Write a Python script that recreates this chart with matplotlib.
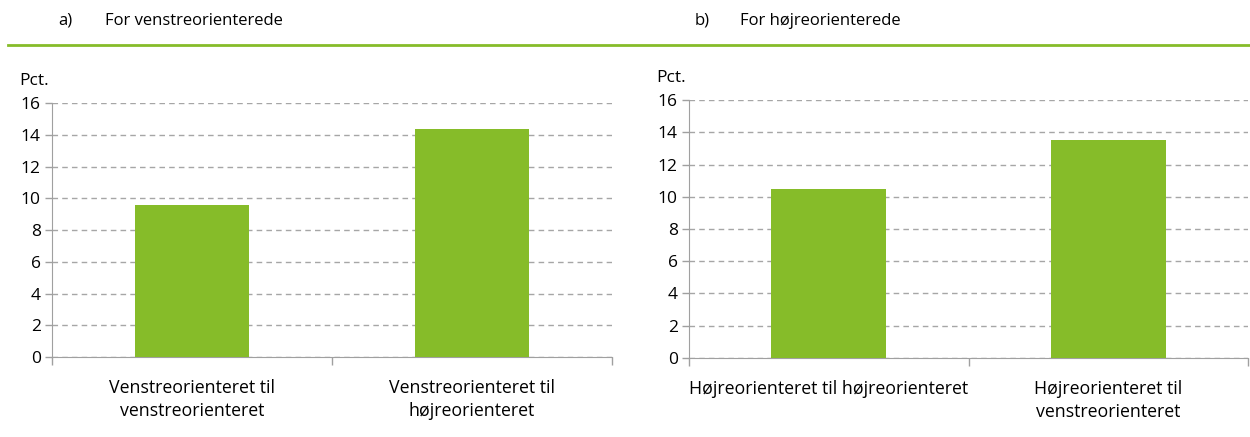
import matplotlib
matplotlib.use('Agg')

import matplotlib.pyplot as plt
from matplotlib.lines import Line2D

plt.rcParams['font.family'] = ['Open Sans', 'DejaVu Sans']

# Data
left_labels = ['Venstreorienteret til\nvenstreorienteret', 'Venstreorienteret til\nhøjreorienteret']
left_values = [9.6, 14.4]
right_labels = ['Højreorienteret til højreorienteret', 'Højreorienteret til\nvenstreorienteret']
right_values = [10.5, 13.5]
yticks = [0, 2, 4, 6, 8, 10, 12, 14, 16]

bar_color = '#86bc29'
grid_color = '#a6a6a6'
spine_color = '#a0a0a0'

fig = plt.figure(figsize=(12.5, 4.37), dpi=100)

panels = [
    ([0.0416, 0.183, 0.448, 0.581], 'a)', 0.0464, 0.084, 'For venstreorienterede', left_labels, left_values),
    ([0.5512, 0.181, 0.4472, 0.590], 'b)', 0.556, 0.592, 'For højreorienterede', right_labels, right_values),
]

for rect, letter, lx, tx, title, labels, values in panels:
    ax = fig.add_axes(rect)
    ax.bar(range(len(values)), values, width=0.41, color=bar_color, zorder=3)
    ax.set_xlim(-0.5, len(values) - 0.5)
    ax.set_ylim(0, 16)
    ax.set_yticks(yticks)
    ax.yaxis.grid(True, linestyle=(0, (4, 3)), color=grid_color, linewidth=1, zorder=0)
    ax.set_xticks(range(len(values)))
    ax.set_xticklabels(labels, fontsize=12.8, linespacing=1.35)
    ax.set_xticks([-0.5 + i for i in range(len(values) + 1)], minor=True)
    ax.tick_params(axis='x', which='major', length=0, pad=16)
    ax.tick_params(axis='x', which='minor', length=6, width=1, color=spine_color)
    ax.tick_params(axis='y', length=5, width=1, color=spine_color, labelsize=12.5, pad=3)
    for s in ['top', 'right']:
        ax.spines[s].set_visible(False)
    for s in ['left', 'bottom']:
        ax.spines[s].set_color(spine_color)
    ax.text(-0.005, 1.055, 'Pct.', transform=ax.transAxes, ha='right', va='bottom', fontsize=12.5)
    fig.text(lx, 0.952, letter, ha='left', va='center', fontsize=12)
    fig.text(tx, 0.952, title, ha='left', va='center', fontsize=12)

# green rule under the headers
fig.add_artist(Line2D([0.006, 1.0], [0.897, 0.897], color='#86bc29', linewidth=2, transform=fig.transFigure))

plt.savefig('out.png', dpi=100)
